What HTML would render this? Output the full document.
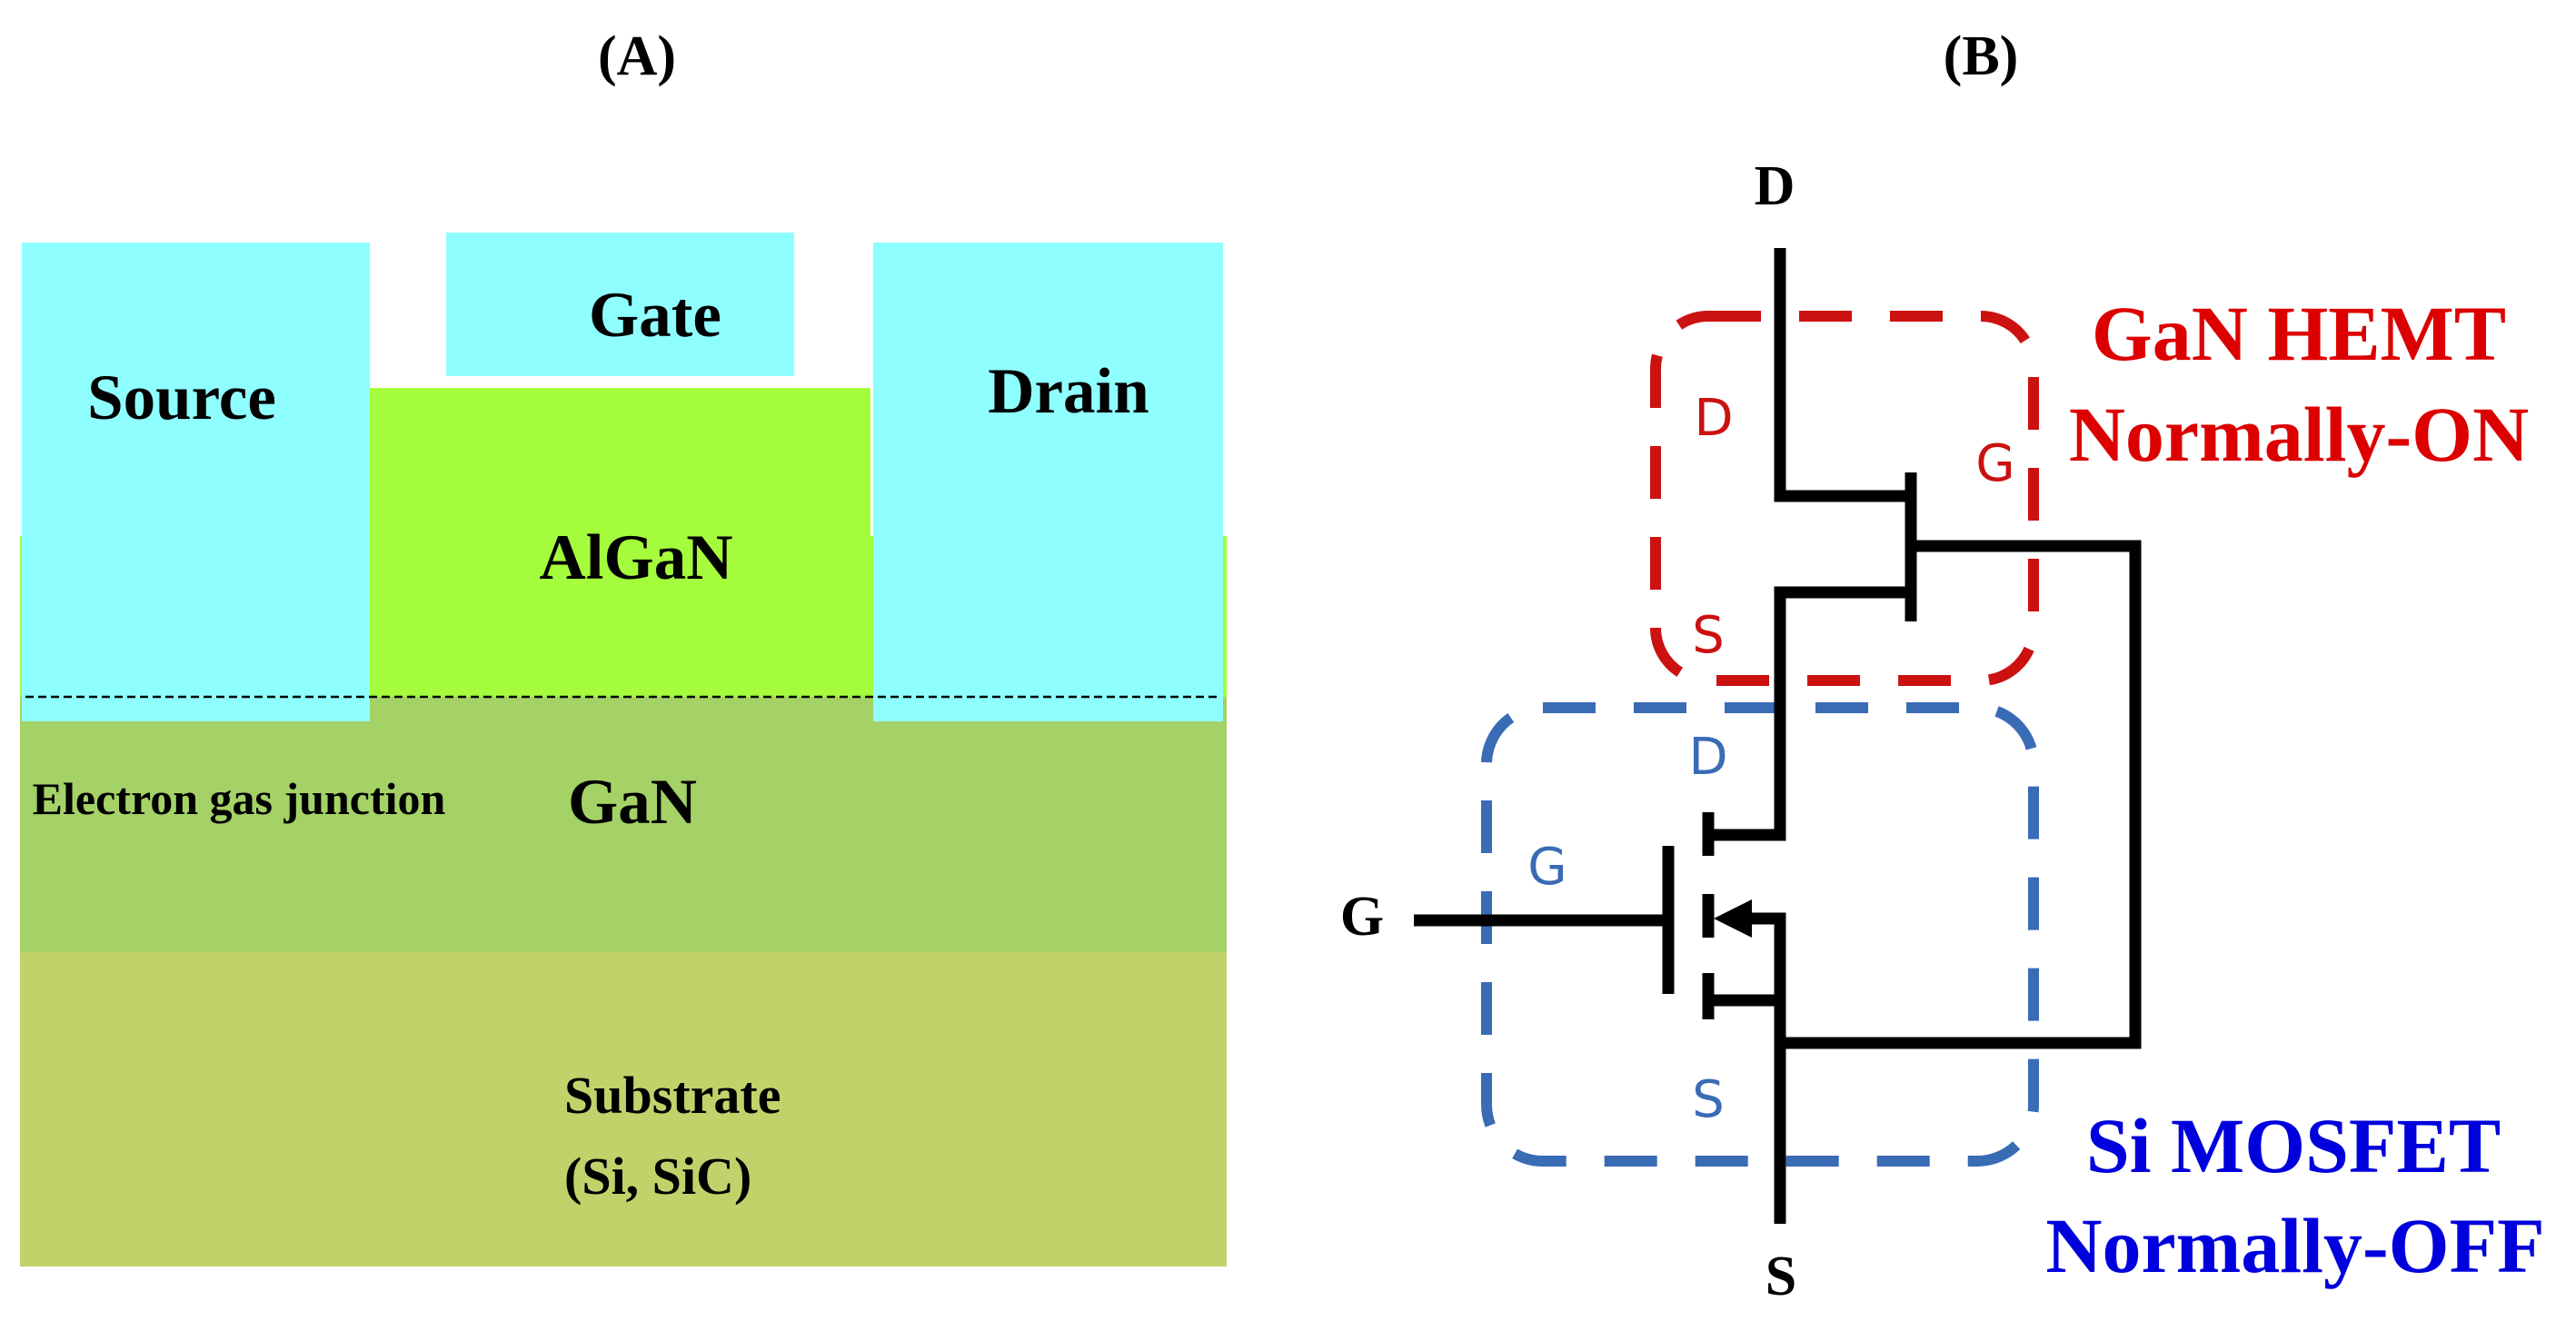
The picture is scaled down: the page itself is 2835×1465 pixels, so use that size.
<!DOCTYPE html>
<html><head><meta charset="utf-8"><style>html,body{margin:0;padding:0;background:#fff}svg{display:block}</style></head><body>
<svg width="2835" height="1465" viewBox="0 0 2835 1465" xmlns="http://www.w3.org/2000/svg">
<rect width="2835" height="1465" fill="#fff"/>
<g font-family="Liberation Serif, serif" font-weight="bold" text-anchor="middle">
<text x="701" y="82" font-size="62">(A)</text>
<text x="2180" y="82" font-size="62">(B)</text>
</g>
<!-- Panel A -->
<rect x="22" y="590" width="1328" height="178" fill="#a4fc3c"/>
<rect x="403" y="427" width="555" height="341" fill="#a4fc3c"/>
<rect x="22" y="767" width="1328" height="281" fill="#a4d266"/>
<rect x="22" y="1048" width="1328" height="346" fill="#c2d26a"/>
<rect x="24" y="267" width="383" height="527" fill="#8ffefe"/>
<rect x="491" y="256" width="383" height="158" fill="#8ffefe"/>
<rect x="961" y="267" width="385" height="527" fill="#8ffefe"/>
<line x1="28" y1="767" x2="1344" y2="767" stroke="#000" stroke-width="2.5" stroke-dasharray="9,5"/>
<g font-family="Liberation Serif, serif" font-weight="bold" text-anchor="middle" fill="#000">
<text x="200" y="461" font-size="71">Source</text>
<text x="721" y="370" font-size="71">Gate</text>
<text x="1176" y="454" font-size="71">Drain</text>
<text x="700" y="637" font-size="71">AlGaN</text>
<text x="263" y="896" font-size="50">Electron gas junction</text>
<text x="696" y="906" font-size="71">GaN</text>
<text x="621" y="1225" font-size="58" text-anchor="start">Substrate</text>
<text x="621" y="1314" font-size="58" text-anchor="start">(Si, SiC)</text>
</g>
<!-- Panel B -->
<rect x="1822" y="348" width="416" height="401" rx="58" fill="none" stroke="#cc1111" stroke-width="12" stroke-dasharray="58,42"/>
<rect x="1636" y="779" width="602" height="499" rx="62" fill="none" stroke="#3a6bb5" stroke-width="12" stroke-dasharray="58,42"/>
<g stroke="#000" stroke-width="13" fill="none" stroke-linecap="butt">
<polyline points="1959,273 1959,546 2103,546"/>
<line x1="2103" y1="520" x2="2103" y2="684"/>
<polyline points="2103,601 2350,601 2350,1148 1959,1148"/>
<polyline points="2099,652 1959,652 1959,919 1880,919"/>
<line x1="1880" y1="894" x2="1880" y2="942"/>
<line x1="1880" y1="984" x2="1880" y2="1032"/>
<line x1="1880" y1="1071" x2="1880" y2="1122"/>
<polyline points="1922,1011 1959,1011 1959,1347"/>
<line x1="1880" y1="1101" x2="1959" y2="1101"/>
<line x1="1836" y1="931" x2="1836" y2="1094"/>
<line x1="1556" y1="1013" x2="1836" y2="1013"/>
</g>
<polygon points="1886,1011 1928,990 1928,1032" fill="#000"/>
<g font-family="Liberation Serif, serif" font-weight="bold" text-anchor="middle" fill="#000">
<text x="1953" y="225" font-size="62">D</text>
<text x="1499" y="1029" font-size="62">G</text>
<text x="1960" y="1425" font-size="62">S</text>
</g>
<g font-family="DejaVu Sans, Liberation Sans, sans-serif" text-anchor="middle" font-size="56">
<g fill="#cc1111"><text x="1886" y="479">D</text><text x="2196" y="529">G</text><text x="1880" y="718">S</text></g>
<g fill="#3a6bb5"><text x="1880" y="852">D</text><text x="1703" y="973">G</text><text x="1880" y="1229">S</text></g>
</g>
<g font-family="Liberation Serif, serif" font-weight="bold" text-anchor="middle" font-size="86">
<g fill="#dd0000"><text x="2530" y="396">GaN HEMT</text><text x="2530" y="507">Normally-ON</text></g>
<g fill="#0000dd"><text x="2524" y="1290">Si MOSFET</text><text x="2526" y="1400">Normally-OFF</text></g>
</g>
</svg>
</body></html>
